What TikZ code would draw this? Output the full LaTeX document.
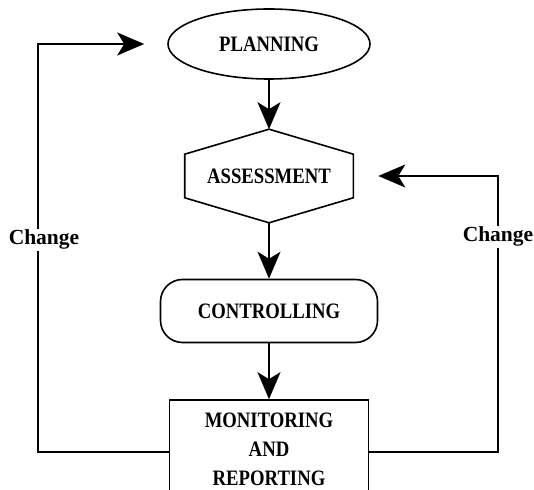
\documentclass[tikz,border=0pt]{standalone}
\usepackage{fontspec}
\setmainfont{Liberation Serif}
\newfontfamily\boxfont{Liberation Serif}[FakeStretch=0.85]
\usetikzlibrary{shapes.geometric,arrows.meta}

\begin{document}
\begin{tikzpicture}[x=1pt,y=1pt,
    box/.style={draw,line width=1.6pt,font=\boxfont\bfseries\fontsize{22}{29}\selectfont,
        align=center,inner sep=0pt},
    flow/.style={line width=1.6pt,-{Stealth[length=27pt,width=23pt,inset=7pt]}},
    tag/.style={fill=white,font=\bfseries\fontsize{21.5}{24}\selectfont,inner sep=1pt}]
    \useasboundingbox (0,0) rectangle (534,489);
    \clip (0,0) rectangle (534,489);

    % steps
    \node[box,ellipse,minimum width=202pt,minimum height=70pt]
        (plan) at (269,445) {PLANNING};
    \node[box,draw=none,minimum width=167pt,minimum height=92pt]
        (assess) at (269,313) {ASSESSMENT};
    \draw[line width=1.6pt]
        (assess.north) -- ([yshift=-25pt]assess.north east)
        -- ([yshift=25pt]assess.south east) -- (assess.south)
        -- ([yshift=25pt]assess.south west)
        -- ([yshift=-25pt]assess.north west) -- cycle;
    \node[box,rounded corners=22pt,minimum width=217pt,minimum height=63pt]
        (ctrl) at (269,178) {CONTROLLING};
    \node[box,minimum width=199pt,minimum height=98pt]
        (mon) at (269,40) {MONITORING\\AND\\REPORTING};

    % main flow
    \draw[flow] (plan.south) -- (assess.north);
    \draw[flow] (assess.south) -- (ctrl.north);
    \draw[flow] (ctrl.south) -- (mon.north);

    % feedback loops
    \coordinate (lside) at (38,37);
    \coordinate (rside) at (498,37);
    \draw[flow,shorten >=23pt] ([yshift=-3pt]mon.west) -- (lside)
        |- node[tag,pos=0.26,xshift=6pt] {Change} (plan.west);
    \draw[flow,shorten >=25pt] ([yshift=-3pt]mon.east) -- (rside)
        |- node[tag,pos=0.39] {Change} (assess.east);
\end{tikzpicture}
\end{document}
